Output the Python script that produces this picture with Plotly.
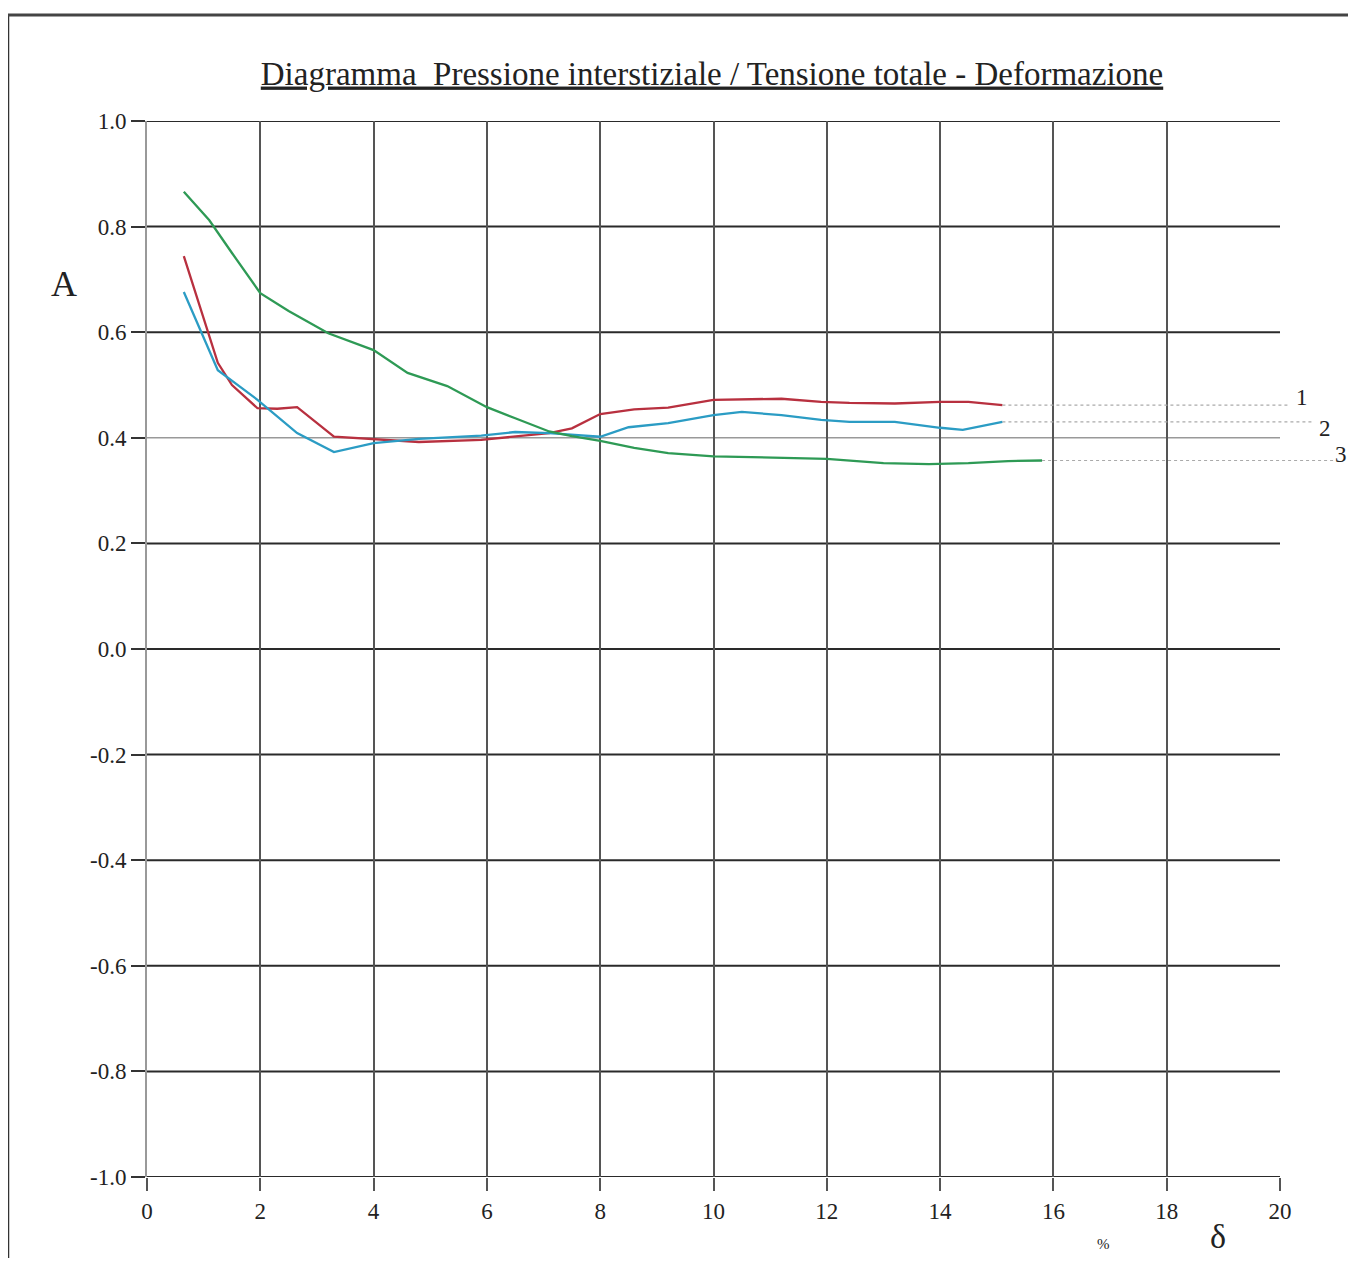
import plotly.graph_objects as go

# deformation (%) / A values
x_red = [0.65, 1.1, 1.25, 1.5, 1.95, 2.3, 2.65, 3.3, 4.0, 4.8, 5.9, 6.5, 7.1, 7.5, 8.0, 8.6, 9.2, 10.0, 11.2, 11.9, 12.4, 13.2, 14.0, 14.5, 15.1]
y_red = [0.744, 0.591, 0.542, 0.50, 0.456, 0.455, 0.458, 0.402, 0.398, 0.392, 0.396, 0.402, 0.409, 0.418, 0.445, 0.454, 0.457, 0.472, 0.474, 0.468, 0.466, 0.465, 0.468, 0.468, 0.462]

x_blue = [0.65, 1.25, 1.95, 2.65, 3.3, 4.0, 4.8, 5.9, 6.5, 7.1, 8.0, 8.5, 9.2, 10.0, 10.5, 11.2, 11.9, 12.4, 13.2, 14.0, 14.4, 15.1]
y_blue = [0.676, 0.528, 0.472, 0.409, 0.373, 0.390, 0.398, 0.404, 0.411, 0.409, 0.402, 0.420, 0.428, 0.443, 0.449, 0.443, 0.434, 0.430, 0.430, 0.419, 0.415, 0.430]

x_green = [0.65, 1.1, 1.5, 2.0, 2.5, 3.2, 4.0, 4.6, 5.3, 6.0, 6.5, 7.1, 7.5, 8.0, 8.6, 9.2, 10.0, 11.0, 12.0, 13.0, 13.8, 14.5, 15.2, 15.8]
y_green = [0.866, 0.812, 0.750, 0.674, 0.640, 0.598, 0.566, 0.523, 0.498, 0.458, 0.437, 0.412, 0.403, 0.394, 0.381, 0.371, 0.365, 0.362, 0.360, 0.352, 0.350, 0.352, 0.356, 0.357]

curve_labels = ["1", "2", "3"]
x_ticks = list(range(0, 21, 2))
y_ticks = [1.0, 0.8, 0.6, 0.4, 0.2, 0.0, -0.2, -0.4, -0.6, -0.8, -1.0]
y_ticktext = ["1.0", "0.8", "0.6", "0.4", "0.2", "0.0", "-0.2", "-0.4", "-0.6", "-0.8", "-1.0"]

FONT = "Liberation Serif, Times New Roman, serif"
# the page body adds an 8px margin all round, so keep the figure inside the window
OFF = 8
W, H = 1356 - 2 * OFF, 1270 - 2 * OFF - 4
L, T = 147 - OFF, 121 - OFF
R = W - L - 1133
B = H - T - 1056

fig = go.Figure()

series = [
    (x_red, y_red, "#b8303f"),
    (x_blue, y_blue, "#2b9cc4"),
    (x_green, y_green, "#2e9a55"),
]
for xs, ys, col in series:
    fig.add_trace(go.Scatter(x=xs, y=ys, mode="lines",
                             line=dict(color=col, width=2.3), showlegend=False))

# window pixel -> paper coordinates
px = lambda p: (p - OFF - L) / (W - L - R)
py = lambda p: (H - B - (p - OFF)) / (H - T - B)

shapes = []
# horizontal grid lines (the 0.4 one is printed lighter)
for yv in y_ticks:
    shapes.append(dict(type="line", xref="paper", yref="y", x0=0, x1=1, y0=yv, y1=yv,
                       line=dict(color="#999999" if yv == 0.4 else "#2a2a2a", width=1.6 if yv == 0.4 else 2),
                       layer="below"))

# dotted leader lines from the curve ends to the numbers
lead_end = [px(1290), px(1313), px(1334)]
lead_lab = [px(1302), px(1325), px(1341)]
lab_dy = [0.014, -0.012, 0.012]
annotations = []
for (xs, ys, col), xe, xl, dy, txt in zip(series, lead_end, lead_lab, lab_dy, curve_labels):
    shapes.append(dict(type="line", xref="paper", yref="y", x0=xs[-1] / 20, x1=xe,
                       y0=ys[-1], y1=ys[-1], line=dict(color="#aaaaaa", width=1.2, dash="dot")))
    annotations.append(dict(text=txt, xref="paper", yref="y", x=xl, y=ys[-1] + dy,
                            xanchor="center", yanchor="middle", showarrow=False,
                            font=dict(family=FONT, size=23, color="#222")))

# page frame of the scanned sheet
shapes.append(dict(type="line", xref="paper", yref="paper", x0=px(8), x1=px(8), y0=py(14), y1=py(1262),
                   line=dict(color="#333", width=2.5)))
shapes.append(dict(type="line", xref="paper", yref="paper", x0=px(4), x1=px(1356), y0=py(15), y1=py(15),
                   line=dict(color="#444", width=3)))

annotations += [
    dict(text="A", xref="paper", yref="paper", x=px(64), y=py(284), showarrow=False,
         xanchor="center", yanchor="middle", font=dict(family=FONT, size=36, color="#222")),
    dict(text="%", xref="paper", yref="paper", x=px(1103), y=py(1244), showarrow=False,
         xanchor="center", yanchor="middle", font=dict(family=FONT, size=15, color="#222")),
    dict(text="δ", xref="paper", yref="paper", x=px(1218), y=py(1236), showarrow=False,
         xanchor="center", yanchor="middle", font=dict(family=FONT, size=34, color="#222")),
]

fig.update_layout(
    width=W, height=H,
    margin=dict(l=L, r=R, t=T, b=B),
    paper_bgcolor="white", plot_bgcolor="white",
    font=dict(family=FONT, size=23, color="#222"),
    title=dict(text="<u>Diagramma  Pressione interstiziale / Tensione totale - Deformazione</u>",
               x=(712 - OFF) / W, xanchor="center", y=1 - (73 - OFF) / H, yanchor="middle",
               font=dict(family=FONT, size=33, color="#222")),
    xaxis=dict(range=[0, 20], tickvals=x_ticks, showgrid=True, gridcolor="#555555", gridwidth=1.6,
               zeroline=False, showline=False, ticks="outside", ticklen=13, tickcolor="#555",
               tickwidth=1.5),
    yaxis=dict(range=[-1.0, 1.0], tickvals=y_ticks, ticktext=y_ticktext, showgrid=False,
               zeroline=False, showline=True, linecolor="#999999", linewidth=2, ticks="outside",
               ticklen=14, tickcolor="#333", tickwidth=1.5),
    shapes=shapes,
    annotations=annotations,
)

fig.write_html("out.html")
